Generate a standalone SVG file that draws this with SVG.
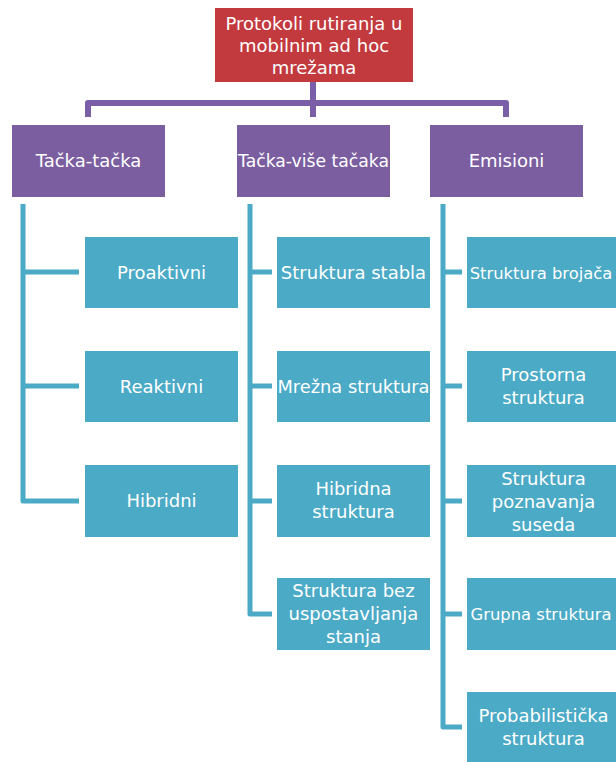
<svg xmlns="http://www.w3.org/2000/svg" width="616" height="762" viewBox="0 0 616 762">
<style>
.root{fill:#C23A3E}
.cat{fill:#7B5EA0}
.leaf{fill:#4BAAC6}
text{font-family:"DejaVu Sans","Liberation Sans",sans-serif;font-size:18px;fill:#FFFFFF;text-anchor:middle}
text.sm{font-size:16.4px}
.pl{fill:none;stroke:#7B5EA8;stroke-width:6;stroke-linejoin:round;stroke-linecap:butt}
.tl{fill:none;stroke:#4BAAC6;stroke-width:5;stroke-linejoin:round;stroke-linecap:butt}
</style>
<rect width="616" height="762" fill="#FFFFFF"/>
<g id="connectors">
<path class="pl" d="M88,117 V103 H506 V117 M313,82 V117"/>
<path class="tl" d="M23,204 V501 H79 M23,272 H79 M23,386 H79"/>
<path class="tl" d="M250,204 V614 H272 M250,272 H272 M250,386 H272 M250,501 H272"/>
<path class="tl" d="M443,204 V727 H462 M443,272 H462 M443,386 H462 M443,501 H462 M443,614 H462"/>
</g>
<g id="root">
<rect class="root" x="215" y="8" width="198" height="74"/>
<text x="314" y="29.5">Protokoli rutiranja u</text>
<text x="314" y="51.5">mobilnim ad hoc</text>
<text x="314" y="73.5">mrežama</text>
</g>
<g id="tacka-tacka">
<rect class="cat" x="12" y="125" width="153" height="72"/>
<text x="88.5" y="167">Tačka-tačka</text>
</g>
<g id="tacka-vise">
<rect class="cat" x="237" y="125" width="153" height="72"/>
<text x="313.5" y="167" textLength="151" lengthAdjust="spacingAndGlyphs">Tačka-više tačaka</text>
</g>
<g id="emisioni">
<rect class="cat" x="430" y="125" width="153" height="72"/>
<text x="506.5" y="167">Emisioni</text>
</g>
<g id="proaktivni">
<rect class="leaf" x="85" y="237" width="153" height="71"/>
<text x="161.5" y="279">Proaktivni</text>
</g>
<g id="reaktivni">
<rect class="leaf" x="85" y="351" width="153" height="71"/>
<text x="161.5" y="393">Reaktivni</text>
</g>
<g id="hibridni">
<rect class="leaf" x="85" y="465" width="153" height="72"/>
<text x="161.5" y="507">Hibridni</text>
</g>
<g id="struktura-stabla">
<rect class="leaf" x="277" y="237" width="153" height="71"/>
<text x="353.5" y="279">Struktura stabla</text>
</g>
<g id="mrezna-struktura">
<rect class="leaf" x="277" y="351" width="153" height="71"/>
<text x="353.5" y="393" textLength="152" lengthAdjust="spacingAndGlyphs">Mrežna struktura</text>
</g>
<g id="hibridna-struktura">
<rect class="leaf" x="277" y="465" width="153" height="72"/>
<text x="353.5" y="495">Hibridna</text>
<text x="353.5" y="518">struktura</text>
</g>
<g id="bez-uspostavljanja">
<rect class="leaf" x="277" y="578" width="153" height="72"/>
<text x="353.5" y="597">Struktura bez</text>
<text x="353.5" y="620">uspostavljanja</text>
<text x="353.5" y="643">stanja</text>
</g>
<g id="struktura-brojaca">
<rect class="leaf" x="467" y="237" width="149" height="71"/>
<text class="sm" x="541" y="278.5">Struktura brojača</text>
</g>
<g id="prostorna-struktura">
<rect class="leaf" x="467" y="351" width="149" height="71"/>
<text x="543.5" y="381">Prostorna</text>
<text x="543.5" y="404">struktura</text>
</g>
<g id="poznavanja-suseda">
<rect class="leaf" x="467" y="465" width="149" height="72"/>
<text x="543.5" y="485">Struktura</text>
<text x="543.5" y="508">poznavanja</text>
<text x="543.5" y="531">suseda</text>
</g>
<g id="grupna-struktura">
<rect class="leaf" x="467" y="578" width="149" height="72"/>
<text class="sm" x="541" y="619.5">Grupna struktura</text>
</g>
<g id="probabilisticka">
<rect class="leaf" x="467" y="692" width="149" height="70"/>
<text x="543.5" y="722">Probabilistička</text>
<text x="543.5" y="745">struktura</text>
</g>
</svg>
